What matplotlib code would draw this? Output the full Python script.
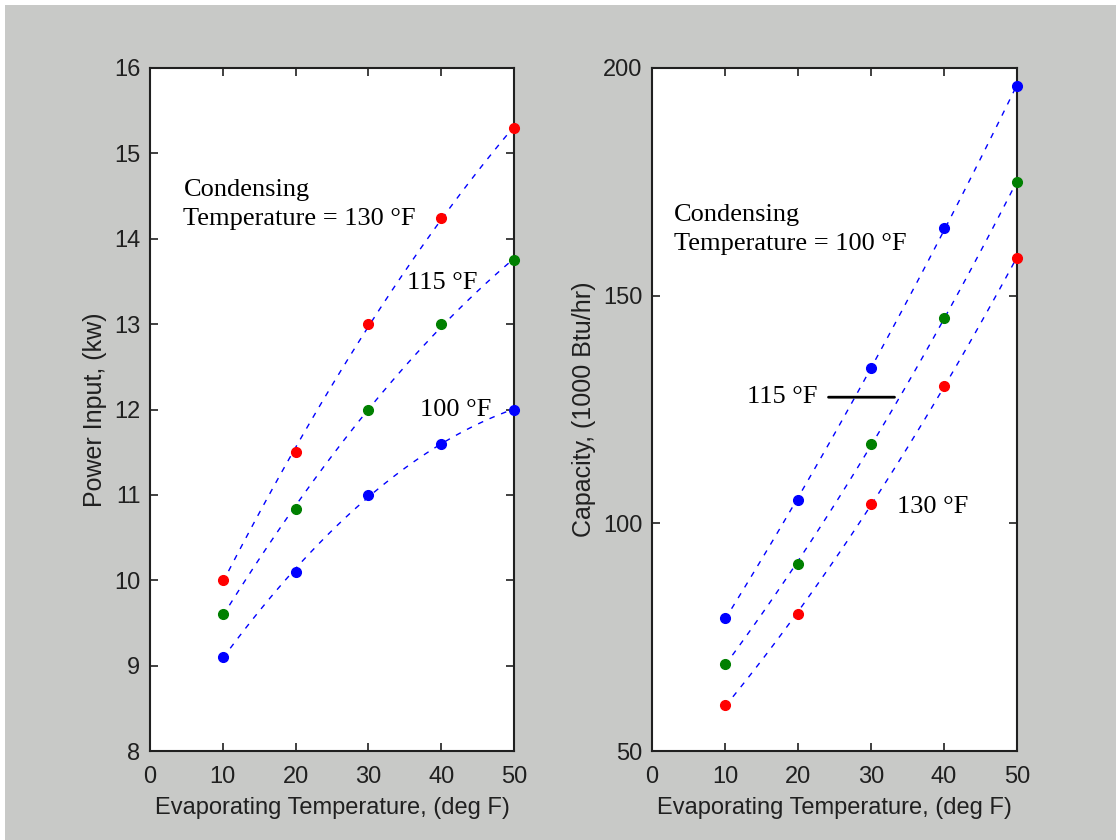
import numpy as np
import matplotlib
matplotlib.use('Agg')
import matplotlib.pyplot as plt
from matplotlib.patches import Rectangle

# evaporating temperature, deg F
evap = [10, 20, 30, 40, 50]

# power input (kw) for condensing temps 130, 115, 100 F
power_130 = [10.0, 11.5, 13.0, 14.24, 15.3]
power_115 = [9.6, 10.84, 12.0, 13.0, 13.75]
power_100 = [9.1, 10.1, 11.0, 11.6, 12.0]

# capacity (1000 Btu/hr)
cap_100 = [79.2, 105.1, 134.1, 164.9, 196.0]
cap_115 = [69.1, 91.1, 117.4, 145.1, 175.0]
cap_130 = [60.0, 80.1, 104.2, 130.2, 158.3]

gray = '#c8c9c7'
tickfont = 'Liberation Sans'
serif = 'Liberation Serif'

fig = plt.figure(figsize=(11.16, 8.4), dpi=100, facecolor='white')
# gray panel with thin white strip on top and left
fig.patches.append(Rectangle((5/1116, 0), 1, 835/840, transform=fig.transFigure,
                             facecolor=gray, edgecolor='none', zorder=-10))

ax1 = fig.add_axes([150/1116, 1-751/840, 364/1116, 683/840])
ax2 = fig.add_axes([652/1116, 1-751/840, 365/1116, 683/840])


def draw(ax, series, colors):
    xs = np.linspace(10, 50, 100)
    for ys, c in zip(series, colors):
        fit = np.polyfit(evap, ys, 2)
        ax.plot(xs, np.polyval(fit, xs), '--', color='#0000ff', lw=1.0, dashes=(4, 5))
        ax.plot(evap, ys, 'o', color=c, ms=7, mec=c, clip_on=False, zorder=5)


draw(ax1, [power_130, power_115, power_100], ['#ff0000', '#008000', '#0000ff'])
draw(ax2, [cap_100, cap_115, cap_130], ['#0000ff', '#008000', '#ff0000'])

ax1.set_xlim(0, 50)
ax1.set_ylim(8, 16)
ax2.set_xlim(0, 50)
ax2.set_ylim(50, 200)
ax2.set_yticks([50, 100, 150, 200])

for ax in (ax1, ax2):
    ax.set_xticks([0, 10, 20, 30, 40, 50])
    ax.tick_params(direction='in', length=6, width=1.2, top=True, right=True,
                   labelsize=17, pad=7, colors='#202020')
    ax.tick_params(axis='x', pad=11)
    for lab in ax.get_xticklabels() + ax.get_yticklabels():
        lab.set_family(tickfont)
    for s in ax.spines.values():
        s.set_linewidth(1.5)
        s.set_color('#202020')
    ax.set_xlabel('Evaporating Temperature, (deg F)', fontsize=17,
                  family=tickfont, color='#202020', labelpad=6)

ax1.set_ylabel('Power Input, (kw)', fontsize=18, family=tickfont,
               color='#202020', labelpad=5)
ax2.set_ylabel('Capacity, (1000 Btu/hr)', fontsize=18, family=tickfont,
               color='#202020', labelpad=5)

tkw = dict(family=serif, fontsize=19, color='black')
ax1.text(4.6, 14.40, 'Condensing\nTemperature = 130 °F', va='center',
         linespacing=1.4, **tkw)
ax1.text(35.3, 13.48, '115 °F', va='center', **tkw)
ax1.text(37.1, 12.0, '100 °F', va='center', **tkw)

ax2.text(3.0, 164.6, 'Condensing\nTemperature = 100 °F', va='center',
         linespacing=1.4, **tkw)
ax2.text(13.0, 127.7, '115 °F', va='center', **tkw)
ax2.annotate('', xy=(33.6, 127.7), xytext=(23.8, 127.7),
             arrowprops=dict(arrowstyle='-', color='black', lw=2))
ax2.text(33.6, 103.6, '130 °F', va='center', **tkw)

fig.savefig('out.png', dpi=100, facecolor=fig.get_facecolor())
